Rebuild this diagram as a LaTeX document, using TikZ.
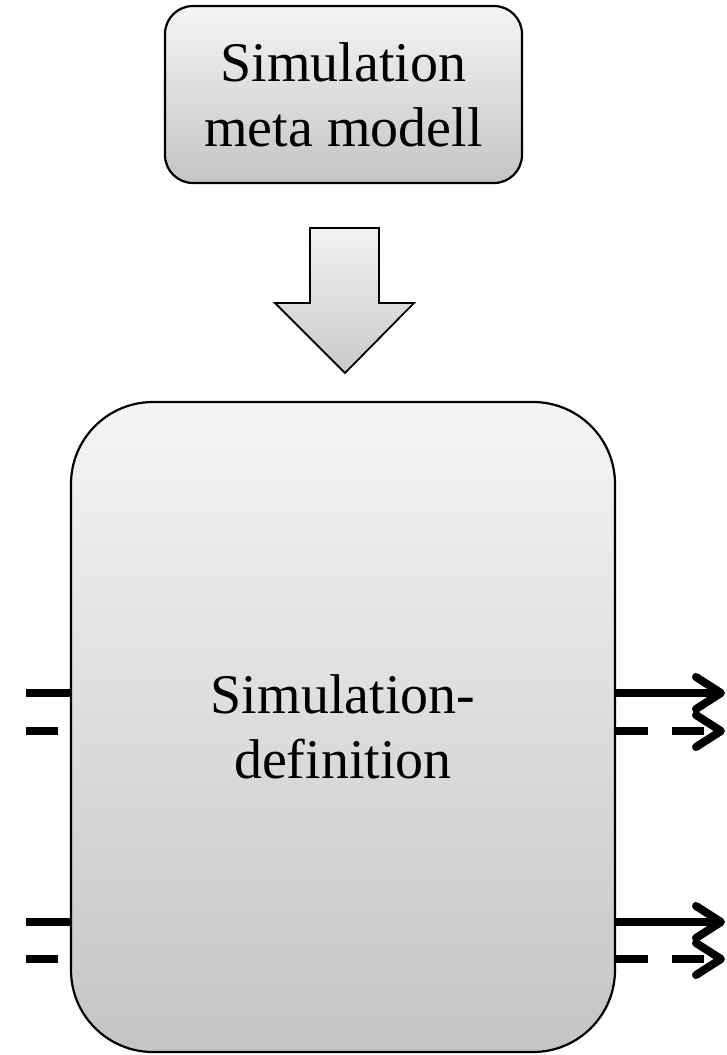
\documentclass[tikz,border=0pt]{standalone}
\usepackage{fontspec}
\setmainfont{Liberation Serif}
\tikzset{
  gbox/.style={draw=black, line width=2.2pt, top color=gray!8, bottom color=gray!46, inner sep=0pt, align=center, font=\fontsize{56}{65}\selectfont},
  blockarrow/.style={draw=black, line width=1.8pt, line join=miter, top color=gray!10, bottom color=gray!42},
  stub/.style={line width=8pt},
  outline/.style={line width=8pt},
  dashline/.style={outline, dash pattern=on 32pt off 24pt},
  chevron/.style={line width=8pt, line cap=round, line join=round}
}
\begin{document}
\begin{tikzpicture}[x=1pt,y=1pt]
\useasboundingbox (0,0) rectangle (727,-1055);
% top box
\node[gbox, rounded corners=28pt, minimum width=357pt, minimum height=177pt] (meta) at (343.5,-94.5) {Simulation\\meta modell};
% big box
\node[gbox, rounded corners=82pt, minimum width=544pt, minimum height=650pt] (def) at (343,-727) {Simulation-\\definition};
% block arrow
\coordinate (a1) at (310,-228);
\coordinate (a2) at (379,-228);
\coordinate (a3) at (379,-303);
\coordinate (a4) at (414,-303);
\coordinate (a5) at (345,-373);
\coordinate (a6) at (275,-303);
\coordinate (a7) at (310,-303);
\path[blockarrow] (a1) -- (a2) -- (a3) -- (a4) -- (a5) -- (a6) -- (a7) -- cycle;
% left stubs
\coordinate (l1) at (26,-693);
\coordinate (l2a) at (26,-731);
\coordinate (l2b) at (58,-731);
\coordinate (l3) at (26,-922);
\coordinate (l4a) at (26,-959);
\coordinate (l4b) at (58,-959);
\draw[stub] (l1) -- (l1 -| def.west);
\draw[stub] (l2a) -- (l2b);
\draw[stub] (l3) -- (l3 -| def.west);
\draw[stub] (l4a) -- (l4b);
% right arrows
\coordinate (r1) at (721,-693);
\coordinate (r2) at (721,-731);
\coordinate (r3) at (721,-922);
\coordinate (r4) at (721,-959);
\draw[outline] (r1 -| def.east) -- (r1);
\draw[chevron] ([shift={(-25,16)}]r1) -- (r1) -- ([shift={(-25,-16)}]r1);
\draw[dashline] (r2 -| def.east) -- (r2);
\draw[chevron] ([shift={(-25,16)}]r2) -- (r2) -- ([shift={(-25,-16)}]r2);
\draw[outline] (r3 -| def.east) -- (r3);
\draw[chevron] ([shift={(-25,16)}]r3) -- (r3) -- ([shift={(-25,-16)}]r3);
\draw[dashline] (r4 -| def.east) -- (r4);
\draw[chevron] ([shift={(-25,16)}]r4) -- (r4) -- ([shift={(-25,-16)}]r4);
\end{tikzpicture}
\end{document}
